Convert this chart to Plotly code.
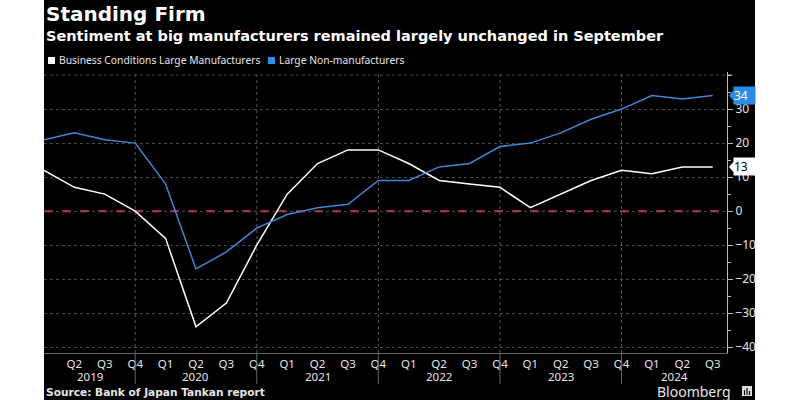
import plotly.graph_objects as go

# ---- data ----
years = [2019, 2020, 2021, 2022, 2023, 2024]
quarter_labels = ["Q1", "Q2", "Q3", "Q4"]
periods = [f"{y} {q}" for y in years for q in quarter_labels][:23]  # 2019 Q1 .. 2024 Q3
manufacturers = [12, 7, 5, 0, -8, -34, -27, -10, 5, 14, 18, 18, 14, 9, 8, 7, 1, 5, 9, 12, 11, 13, 13]
non_manufacturers = [21, 23, 21, 20, 8, -17, -12, -5, -1, 1, 2, 9, 9, 13, 14, 19, 20, 23, 27, 30, 34, 33, 34]
y_ticks = [-40, -30, -20, -10, 0, 10, 20, 30]
series_names = ["Business Conditions Large Manufacturers", "Large Non-manufacturers"]

WHITE = "#ffffff"
BLUE = "#3f86d6"
BLUE_BOX = "#2b8be8"
BLUE_LEG = "#2f8ff0"
GRID = "#4a4a4a"
TXT = "#e6e6e6"

W, H = 800, 400
L, R, T, B = 44, 73, 72, 47
PW, PH = W - L - R, H - T - B

def py(p):
    return 1 - (p - T) / PH

def px(p):
    return (p - L) / PW

x = list(range(len(periods)))
xmax = 22.47

fig = go.Figure()
fig.add_trace(go.Scatter(x=x, y=manufacturers, mode="lines", line=dict(color=WHITE, width=1.5),
                         name=series_names[0], showlegend=False))
fig.add_trace(go.Scatter(x=x, y=non_manufacturers, mode="lines", line=dict(color=BLUE, width=1.5),
                         name=series_names[1], showlegend=False))

tickvals = x[1:]
ticktext = [p.split(" ")[1] for p in periods[1:]]

fig.update_layout(
    width=W, height=H,
    paper_bgcolor="white", plot_bgcolor="black",
    margin=dict(l=L, r=R, t=T, b=B),
    font=dict(family="Noto Sans", color=TXT, size=12),
    showlegend=False,
    title=dict(text="<b>Standing Firm</b>", x=46 / W, xanchor="left", xref="container",
               y=1 - 14 / H, yanchor="middle", yref="container",
               font=dict(family="DejaVu Sans", size=20, color=WHITE)),
    xaxis=dict(range=[0, xmax], tickvals=tickvals, ticktext=ticktext, showgrid=False,
               zeroline=False, showline=True, linecolor="#666", linewidth=1,
               ticks="", tickfont=dict(size=11.5, color=TXT, family="Noto Sans")),
    yaxis=dict(range=[-41.7, 40.9], side="right", tickvals=y_ticks, showgrid=True,
               gridcolor=GRID, griddash="dot", gridwidth=1, zeroline=False,
               showline=True, linecolor="#bbbbbb", linewidth=1,
               ticks="outside", ticklen=5, tickcolor="#bbbbbb",
               minor=dict(dtick=5, ticks="outside", ticklen=3, tickcolor="#bbbbbb", showgrid=False),
               tickfont=dict(size=12, color=TXT, family="Noto Sans")),
)

# black card behind the whole chart (white page on both sides)
fig.add_shape(type="rect", xref="paper", yref="paper", x0=px(44), x1=px(755), y0=py(401), y1=py(-1),
              fillcolor="black", line=dict(width=0), layer="below")

# top gridline at 40
fig.add_shape(type="line", xref="paper", x0=0, x1=1, yref="y", y0=40, y1=40,
              line=dict(color=GRID, width=1, dash="dot"))
fig.add_shape(type="line", xref="paper", x0=1, x1=1.008, yref="y", y0=40, y1=40,
              line=dict(color="#bbbbbb", width=1))

# zero line red dashed
fig.add_shape(type="line", xref="paper", x0=0, x1=1, yref="y", y0=0, y1=0,
              line=dict(color="#e0324a", width=2, dash="dash"), layer="below")

# year dividers at Q4 positions
dividers = [i for i, p in enumerate(periods) if p.endswith("Q4")]
for d in dividers:
    fig.add_shape(type="line", xref="x", x0=d, x1=d, yref="paper", y0=0, y1=py(72),
                  line=dict(color="#555", width=1, dash="dot"), layer="below")
    fig.add_shape(type="line", xref="x", x0=d, x1=d, yref="paper", y0=py(353), y1=py(384),
                  line=dict(color="#666", width=1))

# year labels centred between dividers
edges = [0] + dividers + [xmax]
for i, yr in enumerate(years):
    fig.add_annotation(x=(edges[i] + edges[i + 1]) / 2, xref="x", y=py(376), yref="paper",
                       text=str(yr), showarrow=False, yanchor="middle",
                       font=dict(size=11.5, color=TXT, family="Noto Sans"))

# subtitle
fig.add_annotation(x=px(44), xref="paper", xanchor="left", y=py(36), yref="paper", yanchor="middle",
                   text="<b>Sentiment at big manufacturers remained largely unchanged in September</b>",
                   showarrow=False, font=dict(family="DejaVu Sans", size=14.5, color=WHITE))

# legend (square swatches + labels)
for (sx, tx), name, col in zip([(48, 57), (268, 277)], series_names, [WHITE, BLUE_LEG]):
    fig.add_shape(type="rect", xref="paper", yref="paper", x0=px(sx), x1=px(sx + 7),
                  y0=py(64), y1=py(57), fillcolor=col, line=dict(width=0))
    fig.add_annotation(x=px(tx), xref="paper", xanchor="left", y=py(60.5), yref="paper",
                       yanchor="middle", text=name, showarrow=False,
                       font=dict(family="Noto Sans", size=10.3, color=TXT))

# source
fig.add_annotation(x=px(44), xref="paper", xanchor="left", y=py(392), yref="paper", yanchor="middle",
                   text="<b>Source: Bank of Japan Tankan report</b>", showarrow=False,
                   font=dict(family="DejaVu Sans", size=10.6, color=TXT))

# Bloomberg
fig.add_annotation(x=px(733), xref="paper", xanchor="right", y=py(391), yref="paper", yanchor="middle",
                   text="Bloomberg", showarrow=False,
                   font=dict(family="Noto Sans", size=14, color=TXT))
fig.add_shape(type="rect", xref="paper", yref="paper", x0=px(742), x1=px(752), y0=py(396), y1=py(386),
              fillcolor="#dddddd", line=dict(width=0))
for bx, top in [(744.5, 390), (747, 388), (749.5, 391)]:
    fig.add_shape(type="line", xref="paper", yref="paper", x0=px(bx), x1=px(bx), y0=py(395), y1=py(top),
                  line=dict(color="black", width=1.2))

# last value callouts
for val, bg, fg in [(non_manufacturers[-1], BLUE_BOX, WHITE), (manufacturers[-1], WHITE, "black")]:
    fig.add_annotation(x=px(733), xref="paper", xanchor="left", y=val, yref="y", yanchor="middle",
                       text=str(val), showarrow=False, bgcolor=bg, borderpad=0,
                       font=dict(size=12, color=fg, family="Noto Sans"), width=21, align="left")
    fig.add_shape(type="path", xref="paper", yref="y",
                  path=f"M {px(729)} {val} L {px(734)} {val + 1.7} L {px(734)} {val - 1.7} Z",
                  fillcolor=bg, line=dict(width=0))

fig.write_html("out.html", config={"displayModeBar": False},
               post_script="document.body.style.margin='0';")
